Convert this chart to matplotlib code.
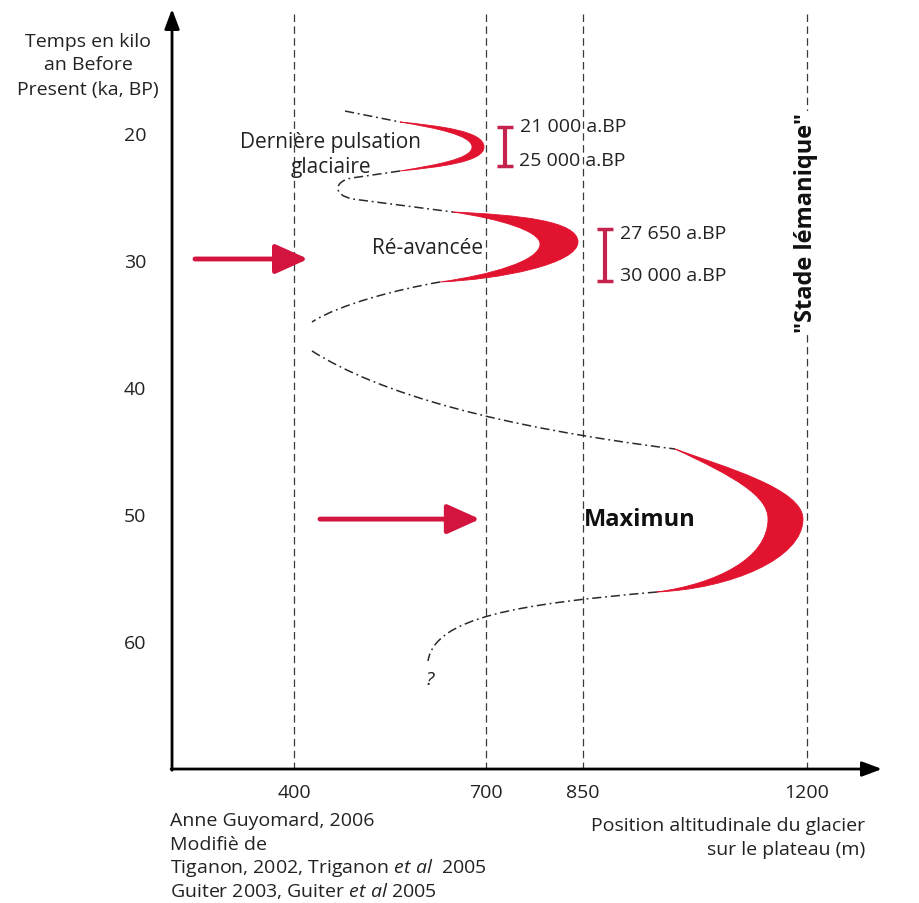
import matplotlib
matplotlib.use("Agg")
import matplotlib.pyplot as plt
from matplotlib.path import Path
from matplotlib.patches import PathPatch

plt.rcParams['font.family'] = ['Open Sans', 'DejaVu Sans']
plt.rcParams['mathtext.fontset'] = 'custom'
plt.rcParams['mathtext.rm'] = 'Open Sans'
plt.rcParams['mathtext.it'] = 'Open Sans:italic'

# ---------------- data ----------------
x_ticks = [400, 700, 850, 1200]
y_ticks = [20, 30, 40, 50, 60]

# dash-dot glacier position curve (altitude m, time ka) as Bezier pieces
curve1_x = [479.6, 565.3]
curve1_t = [18.13, 18.99]
curve1_c = "ML"
curve2_x = [565.3, 490.5, 462.4, 459.3, 492.0, 648.0]
curve2_t = [22.85, 23.40, 23.64, 24.74, 25.06, 26.08]
curve2_c = "MLCCCL"
curve3_x = [627.7, 565.3, 471.8, 428.1]
curve3_t = [31.59, 32.14, 33.32, 34.74]
curve3_c = "MCCC"
curve4_x = [428.1, 534.1, 721.2, 994.1]
curve4_t = [37.02, 40.41, 43.01, 44.74]
curve4_c = "MCCC"
curve5_x = [966.0, 752.4, 619.9, 609.0]
curve5_t = [56.00, 56.94, 57.97, 61.43]
curve5_c = "MCCC"

# red crescents: glacier advance maxima
cres1_x = [565.3, 627.7, 696.3, 696.3, 696.3, 627.7, 565.3, 619.9, 677.6, 677.6, 677.6, 619.9, 565.3]
cres1_t = [18.99, 19.31, 19.70, 20.96, 22.14, 22.54, 22.85, 22.38, 21.91, 20.96, 20.02, 19.46, 18.99]
cres2_x = [648.0, 752.4, 842.8, 842.8, 842.8, 721.2, 627.7, 705.6, 783.6, 783.6, 783.6, 721.2, 648.0]
cres2_t = [26.08, 26.31, 26.79, 28.44, 30.17, 31.39, 31.59, 31.04, 29.94, 28.60, 27.57, 26.63, 26.08]
cres3_x = [994.1, 1072.0, 1193.6, 1193.6, 1193.6, 1079.8, 966.0, 1056.4, 1139.1, 1139.1, 1139.1, 1087.6, 994.1]
cres3_t = [44.74, 46.16, 47.89, 50.25, 53.40, 55.76, 56.00, 55.37, 53.40, 50.25, 48.44, 46.94, 44.74]
cres_c = "MCCCCCCCCCCCC"

# red arrows
arrow_t = [29.78, 50.26]
arrow_x0 = [245.7, 440.6]
arrow_x1 = [422.1, 690.0]

# dating bars (ka) and labels
bar_x = [729.0, 885.0]
bar_lo = [19.39, 27.42]
bar_hi = [22.46, 31.50]
date_labels = ["21 000 a.BP", "25 000 a.BP", "27 650 a.BP", "30 000 a.BP"]
date_x = [752.4, 750.8, 908.4, 908.4]
date_t = [19.31, 21.99, 27.73, 31.02]

ylabel_lines = ["Temps en kilo", "an Before", "Present (ka, BP)"]
ylabel_t = [12.61, 14.43, 16.39]
credit_lines = ["Anne Guyomard, 2006", "Modifiè de",
                r"Tiganon, 2002, Triganon $\mathit{et\ al}$  2005",
                r"Guiter 2003, Guiter $\mathit{et\ al}$ 2005"]
credit_t = [73.95, 75.84, 77.65, 79.46]
xlabel_lines = ["Position altitudinale du glacier", "sur le plateau (m)"]
xlabel_t = [74.35, 76.24]

# ---------------- style ----------------
RED = '#e2132f'
ARROW_RED = '#d3143f'
BAR_RED = '#c4234d'
INK = '#2a2a2a'
FS = 14

fig = plt.figure(figsize=(9.19, 9.04), dpi=100)
ax = fig.add_axes([0, 0, 1, 1])
ax.set_xlim(-58.31, 1374.5)
ax.set_ylim(80.49, 9.307)
ax.axis('off')

X0, T0 = 209.9, 69.94

# vertical reference lines
for xv in x_ticks:
    ax.plot([xv, xv], [10.49, T0], color='#3a3a3a', lw=0.9,
            ls=(0, (6, 3.5)), zorder=1)

# axes with arrows
ax.annotate("", xy=(X0, 10.09), xytext=(X0, T0 + 0.1),
            arrowprops=dict(arrowstyle="-|>,head_length=1.2,head_width=0.45",
                            lw=2.0, color='black', shrinkA=0, shrinkB=0))
ax.annotate("", xy=(1316.8, T0), xytext=(X0 - 1.5, T0),
            arrowprops=dict(arrowstyle="-|>,head_length=1.2,head_width=0.45",
                            lw=2.0, color='black', shrinkA=0, shrinkB=0))


def make_path(xs, ts, codes):
    cm = {'M': Path.MOVETO, 'L': Path.LINETO, 'C': Path.CURVE4}
    return Path(list(zip(xs, ts)), [cm[c] for c in codes])


for xs, ts, cs in [(curve1_x, curve1_t, curve1_c), (curve2_x, curve2_t, curve2_c),
                   (curve3_x, curve3_t, curve3_c), (curve4_x, curve4_t, curve4_c),
                   (curve5_x, curve5_t, curve5_c)]:
    ax.add_patch(PathPatch(make_path(xs, ts, cs), fill=False, edgecolor=INK,
                           lw=1.1, linestyle=(0, (6, 2.5, 1.2, 2.5)), zorder=3))

for xs, ts in [(cres1_x, cres1_t), (cres2_x, cres2_t), (cres3_x, cres3_t)]:
    ax.add_patch(PathPatch(make_path(xs, ts, cres_c), facecolor=RED,
                           edgecolor=RED, lw=0.6, zorder=4))

# red arrows
for t, a0, a1 in zip(arrow_t, arrow_x0, arrow_x1):
    ax.annotate("", xy=(a1, t), xytext=(a0, t),
                arrowprops=dict(arrowstyle="-|>,head_length=2.0,head_width=0.9",
                                lw=3.5, color=ARROW_RED, shrinkA=0, shrinkB=0),
                zorder=5)

# dating bars
for bx, lo, hi in zip(bar_x, bar_lo, bar_hi):
    ax.errorbar([bx], [(lo + hi) / 2], yerr=[(hi - lo) / 2], fmt='none',
                ecolor=BAR_RED, elinewidth=3, capsize=5.5, capthick=2.5, zorder=5)
for lab, dx, dt in zip(date_labels, date_x, date_t):
    ax.text(dx, dt, lab, ha='left', va='center', fontsize=FS, color='#222222', zorder=6)

# tick labels
for xv in x_ticks:
    ax.text(xv, 71.75, str(xv), ha='center', va='center', fontsize=FS, color='#222222')
for tv in y_ticks:
    ax.text(152.2, tv, str(tv), ha='center', va='center', fontsize=FS, color='#222222')

for line, t in zip(ylabel_lines, ylabel_t):
    ax.text(78.9, t, line, ha='center', va='center', fontsize=FS, color='#222222')
for line, t in zip(credit_lines, credit_t):
    ax.text(206.7, t, line, ha='left', va='center', fontsize=FS, color='#222222')
for line, t in zip(xlabel_lines, xlabel_t):
    ax.text(1290.3, t, line, ha='right', va='center', fontsize=FS, color='#222222')

# annotations
ax.text(457.7, 21.51, "Dernière pulsation\nglaciaire", ha='center', va='center',
        fontsize=FS + 1, color='#222222', linespacing=1.2, zorder=6)
ax.text(607.9, 28.91, "Ré-avancée", ha='center', va='center',
        fontsize=FS + 1, color='#222222', zorder=6)
ax.text(939.5, 50.26, "Maximun", ha='center', va='center',
        fontsize=17, fontweight='bold', color='#111111', zorder=6)
ax.text(1198.5, 26.86, '"Stade lémanique"', ha='center', va='center', rotation=90,
        fontsize=17, fontweight='bold', color='#111111', zorder=6,
        bbox=dict(facecolor='white', edgecolor='none', pad=1))
ax.text(612.1, 62.85, "?", ha='center', va='center', fontsize=FS, style='italic',
        color='#222222')

fig.savefig("out.png", dpi=100)
